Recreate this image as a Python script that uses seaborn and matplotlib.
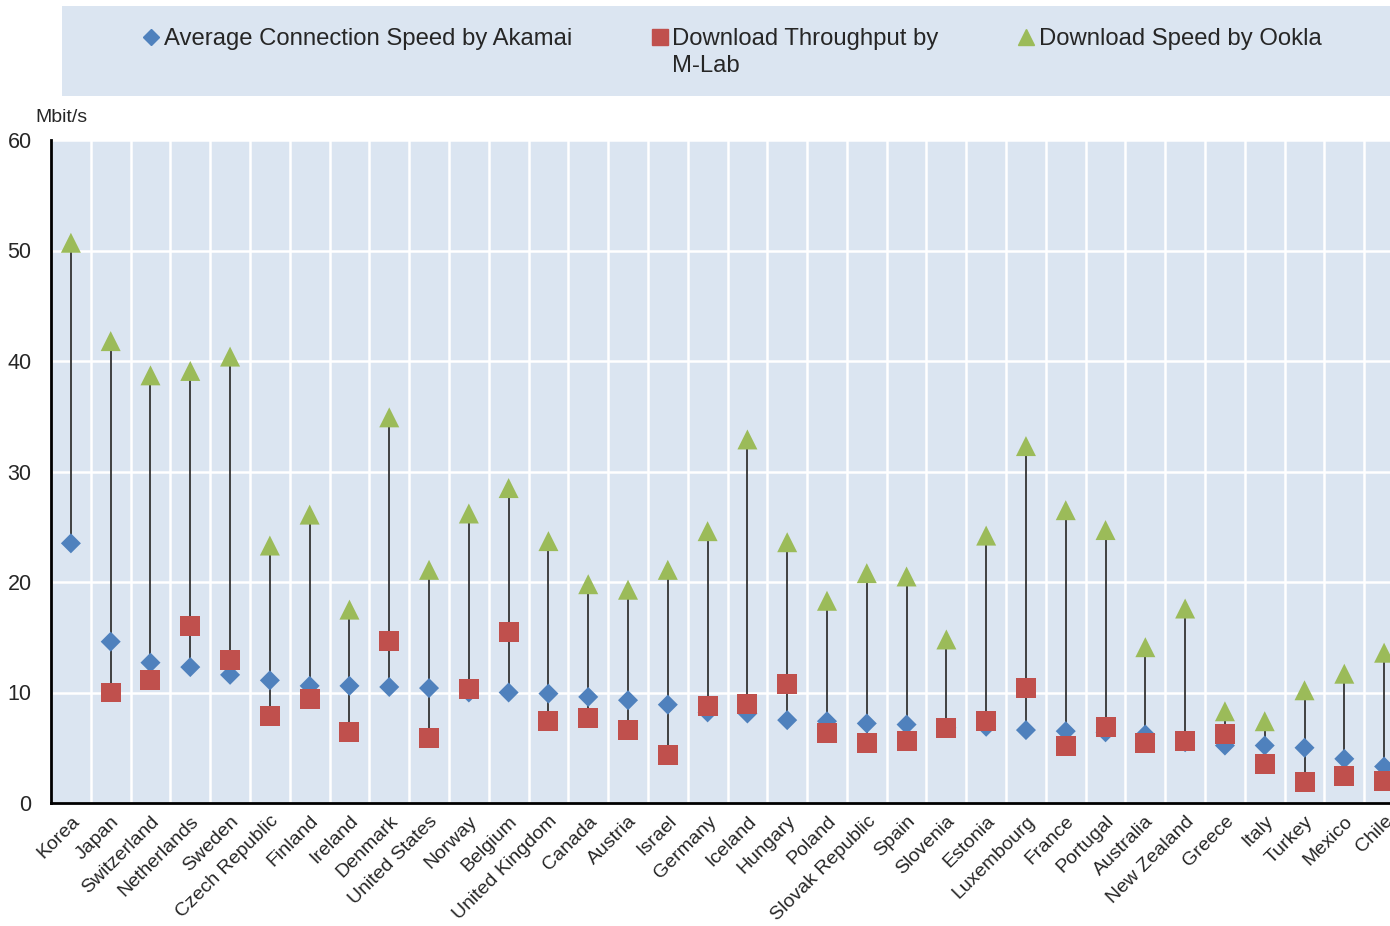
import matplotlib
matplotlib.use("Agg")
import matplotlib.pyplot as plt
import seaborn as sns
import pandas as pd
import numpy as np
from matplotlib.lines import Line2D
from matplotlib.patches import Rectangle

countries = ["Korea", "Japan", "Switzerland", "Netherlands", "Sweden", "Czech Republic",
             "Finland", "Ireland", "Denmark", "United States", "Norway", "Belgium",
             "United Kingdom", "Canada", "Austria", "Israel", "Germany", "Iceland",
             "Hungary", "Poland", "Slovak Republic", "Spain", "Slovenia", "Estonia",
             "Luxembourg", "France", "Portugal", "Australia", "New Zealand", "Greece",
             "Italy", "Turkey", "Mexico", "Chile"]
akamai = [23.5, 14.6, 12.7, 12.3, 11.6, 11.1, 10.6, 10.6, 10.5, 10.4, 10.0, 10.0,
          9.9, 9.6, 9.3, 8.9, 8.2, 8.1, 7.5, 7.4, 7.2, 7.1, 6.8, 6.9,
          6.6, 6.5, 6.4, 6.2, 5.5, 5.2, 5.2, 5.0, 4.0, 3.3]
mlab = [np.nan, 10.0, 11.1, 16.0, 12.9, 7.9, 9.4, 6.4, 14.7, 5.9, 10.3, 15.5,
        7.4, 7.7, 6.6, 4.3, 8.8, 9.0, 10.8, 6.3, 5.4, 5.6, 6.8, 7.4,
        10.4, 5.2, 6.9, 5.4, 5.6, 6.2, 3.5, 1.9, 2.4, 2.0]
ookla = [50.7, 41.8, 38.7, 39.1, 40.4, 23.3, 26.1, 17.5, 34.9, 21.1, 26.2, 28.5,
         23.7, 19.8, 19.3, 21.1, 24.6, 32.9, 23.6, 18.3, 20.8, 20.5, 14.8, 24.2,
         32.3, 26.5, 24.7, 14.1, 17.6, 8.3, 7.4, 10.2, 11.7, 13.6]

series = ["Average Connection Speed by Akamai", "Download Throughput by M-Lab",
          "Download Speed by Ookla"]
colors = ["#4f81bd", "#c0504d", "#9bbb59"]
markers = ["D", "s", "^"]

df = pd.DataFrame({"Country": countries, series[0]: akamai,
                   series[1]: mlab, series[2]: ookla})

sns.set_theme(style="white")
plt.rcParams["font.family"] = ["Liberation Sans", "DejaVu Sans"]

bg = "#dbe5f1"
W, H = 1390, 926
fig = plt.figure(figsize=(W / 100, H / 100), dpi=100)
ax = fig.add_axes([51 / W, 123 / H, 1353 / W, 663 / H])
ax.set_facecolor(bg)

sizes = [104, 207, 207]
for i, name in enumerate(series):
    sns.scatterplot(data=df, x="Country", y=name, marker=markers[i], color=colors[i],
                    s=sizes[i], edgecolor="none", linewidth=0, ax=ax, zorder=3 + i)

# line from the lowest to the highest value of each country
lo = df[series].min(axis=1)
hi = df[series].max(axis=1)
ax.vlines(countries, lo, hi, color="#333333", lw=1.3, zorder=2)

n = len(countries)
ax.set_xlim(-0.5, n - 0.5)
ax.set_ylim(0, 60)
ax.set_yticks(range(0, 61, 10))
ax.set_xticks(range(n))
ax.set_xticklabels(countries, rotation=45, ha="right", rotation_mode="anchor", fontsize=14)
ax.set_xticks(np.arange(-0.5, n, 1), minor=True)
ax.set_xlabel("")
ax.set_ylabel("")

ax.grid(which="minor", axis="x", color="white", lw=1.8)
ax.grid(which="major", axis="y", color="white", lw=1.8)
ax.set_axisbelow(True)
ax.tick_params(axis="x", which="major", length=0, pad=7, labelsize=14)
ax.tick_params(axis="x", which="minor", direction="in", length=6, width=1.5, color="black")
ax.tick_params(axis="y", which="major", direction="in", length=6, width=1.5,
               color="black", pad=14, labelsize=15.5)
for side in ["top", "right"]:
    ax.spines[side].set_visible(False)
for side in ["left", "bottom"]:
    ax.spines[side].set_color("black")
    ax.spines[side].set_linewidth(2)

fig.text(35 / W, 1 - 117 / H, "Mbit/s", ha="left", va="center", fontsize=14)

# legend box
fig.patches.append(Rectangle((62 / W, 1 - 96 / H), 1328 / W, 90 / H,
                             transform=fig.transFigure, facecolor=bg, edgecolor="none"))
handles = [Line2D([], [], ls="none", marker=markers[0], color=colors[0], markersize=8.6),
           Line2D([], [], ls="none", marker=markers[1], color=colors[1], markersize=11),
           Line2D([], [], ls="none", marker=markers[2], color=colors[2], markersize=11.5)]
labels = [series[0], "Download Throughput by", series[2]]
leg_fs = 17.2
leg = fig.legend(handles, labels, loc="upper center", bbox_to_anchor=(732 / W, 1 - 16 / H),
                 ncol=3, frameon=False, fontsize=leg_fs, handlelength=0.75, handletextpad=0.15,
                 columnspacing=3.3, borderpad=0)
fig.canvas.draw()
bb = leg.get_texts()[1].get_window_extent()
fig.text(bb.x0 / W, (bb.y0 - 27) / H, "M-Lab", ha="left", va="bottom", fontsize=leg_fs)

fig.savefig("out.png", dpi=100, facecolor="white")
